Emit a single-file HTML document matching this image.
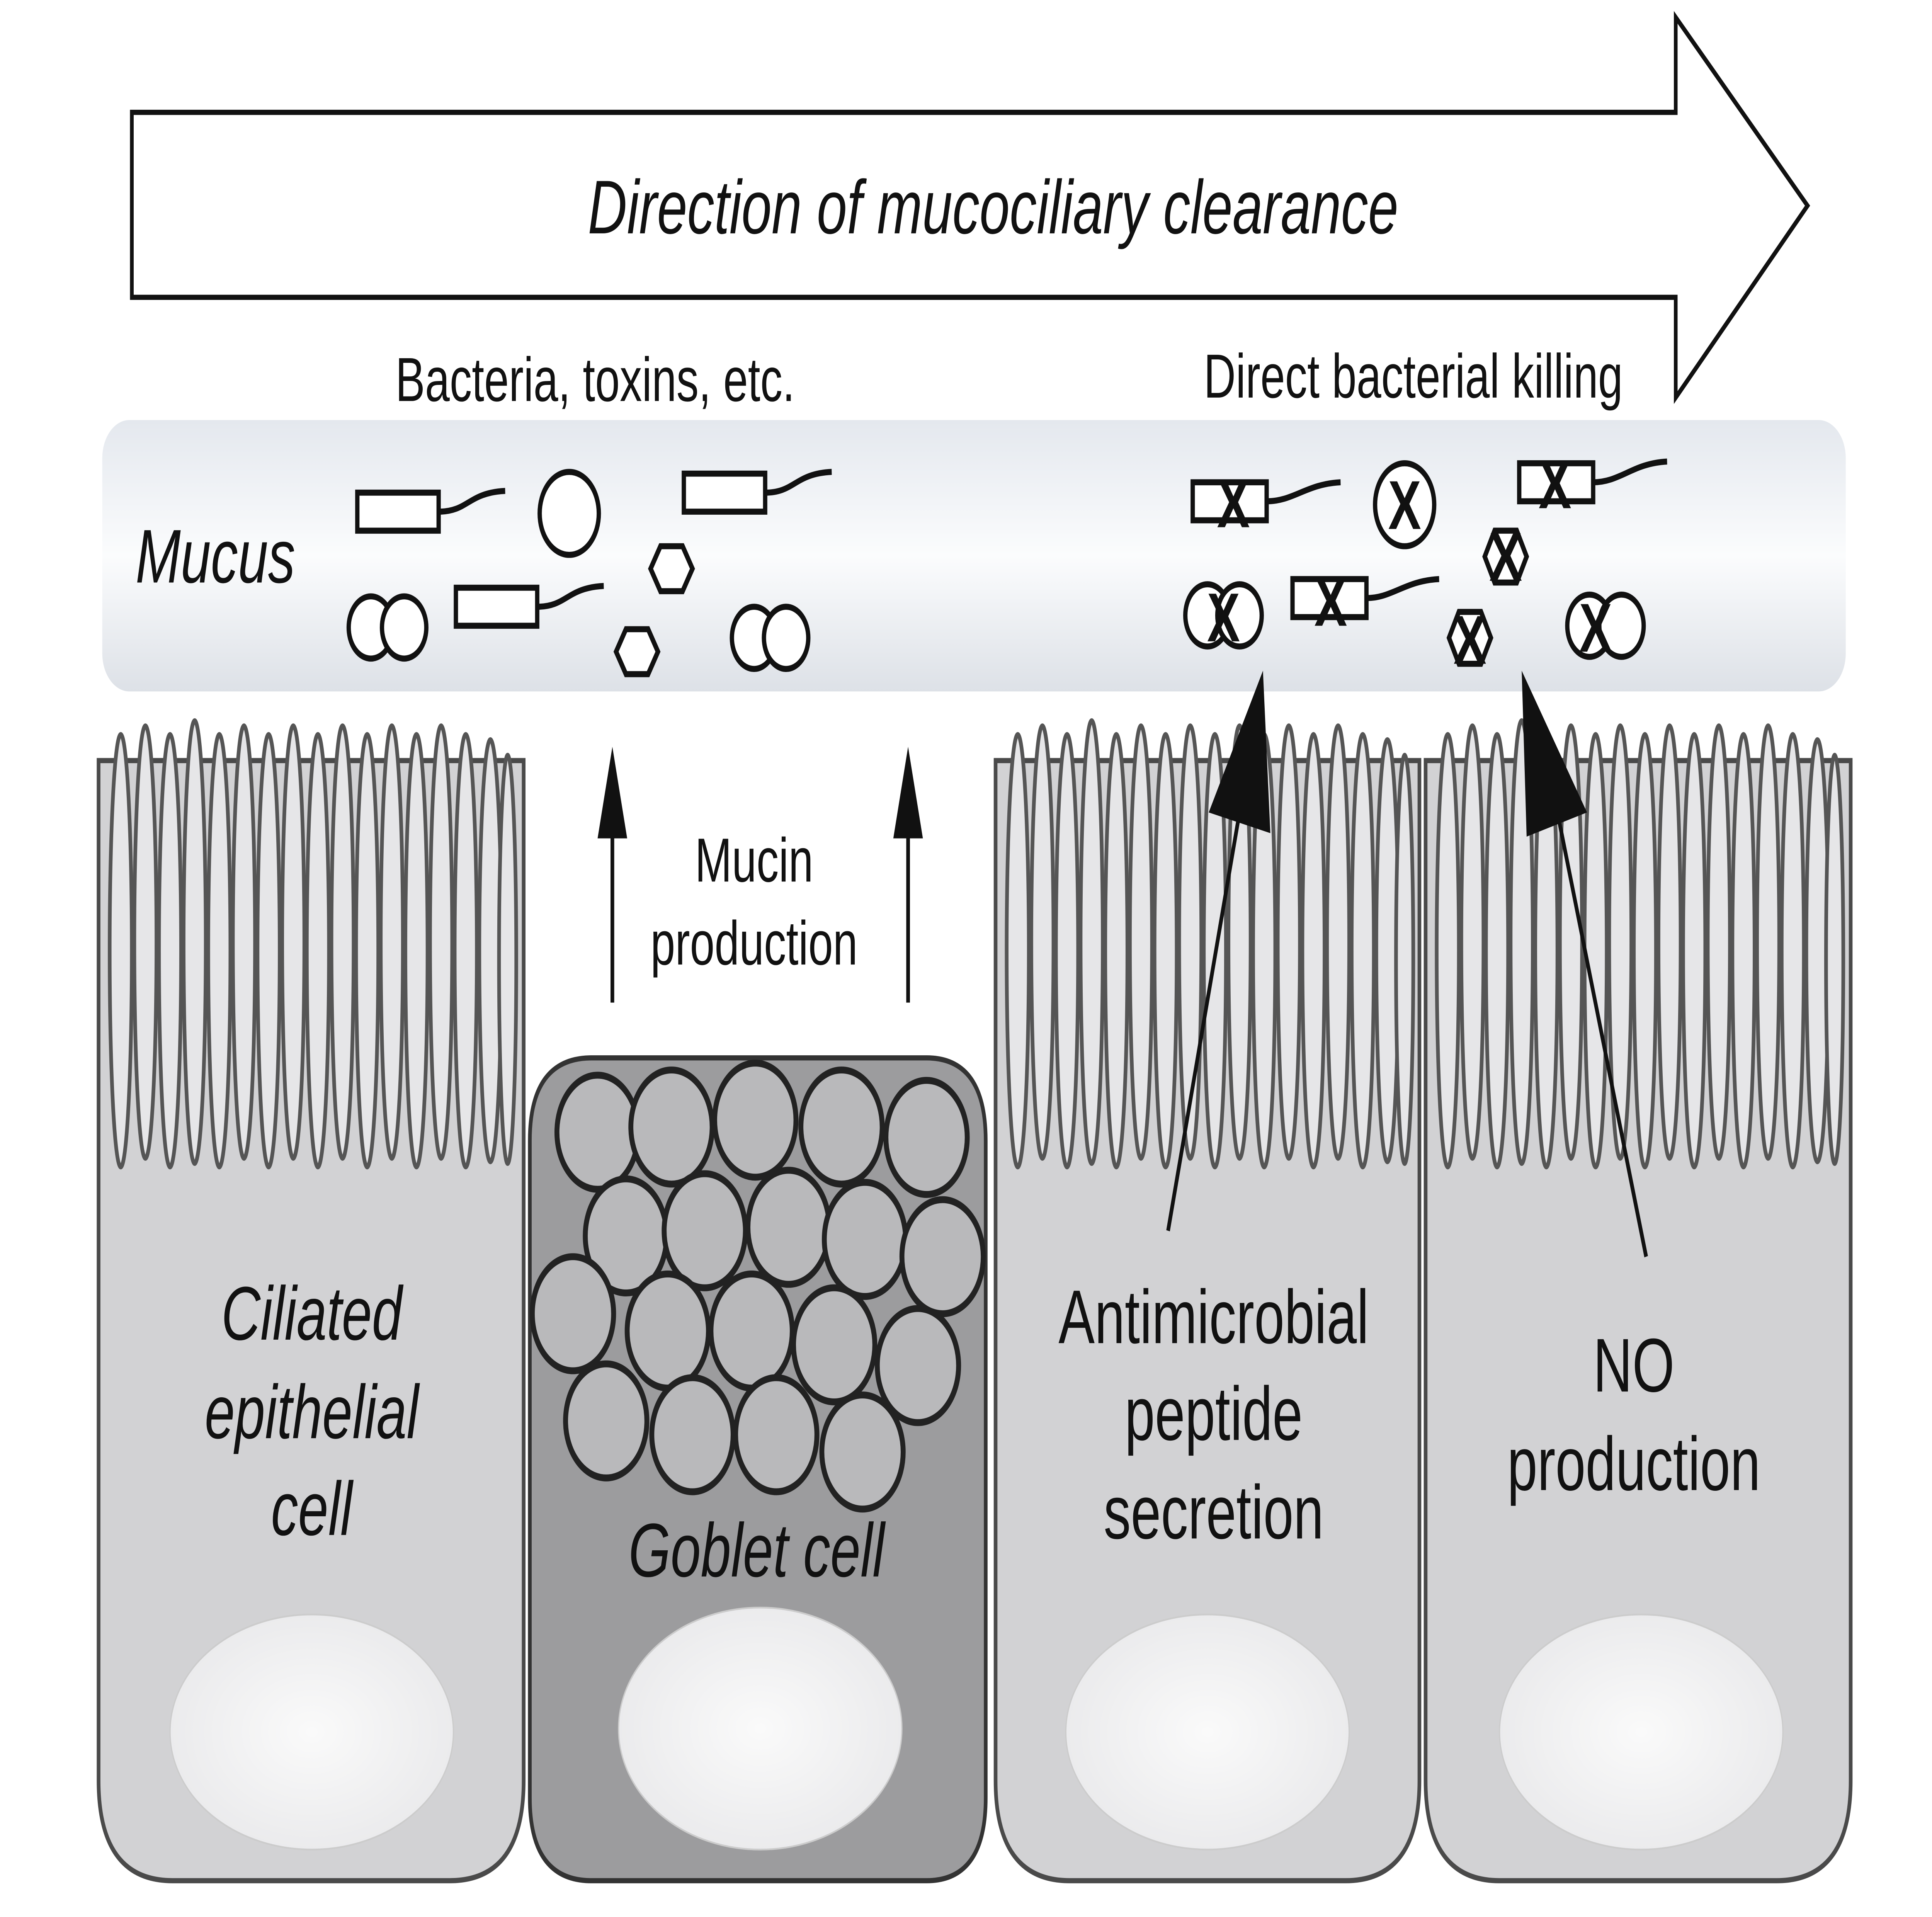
<!DOCTYPE html>
<html><head><meta charset="utf-8"><style>html,body{margin:0;padding:0;background:#fff;overflow:hidden;width:100%;height:100%}svg{display:block;width:100vw;height:100vh}</style></head><body>
<svg viewBox="0 0 1568 1109" preserveAspectRatio="none" xmlns="http://www.w3.org/2000/svg" font-family="Liberation Sans, sans-serif">
<defs>
<linearGradient id="mg" x1="0" y1="0" x2="0" y2="1">
<stop offset="0" stop-color="#e4e8ee"/><stop offset="0.5" stop-color="#fbfcfd"/><stop offset="1" stop-color="#dde1e7"/>
</linearGradient>
<radialGradient id="ng" cx="0.5" cy="0.5" r="0.6"><stop offset="0" stop-color="#fafafa"/><stop offset="1" stop-color="#e8e8ea"/></radialGradient>
</defs>
<rect width="1568" height="1109" fill="#fff"/>
<path d="M107,65 L1360,65 L1360,10 L1467,119 L1360,230 L1360,172 L107,172 Z" fill="#fff" stroke="#111" stroke-width="3"/>
<text x="806" y="135" font-size="44" font-style="italic" text-anchor="middle" fill="#111">Direction of mucociliary clearance</text>
<text x="483" y="232" font-size="36" text-anchor="middle" fill="#111">Bacteria, toxins, etc.</text>
<text x="1147" y="230" font-size="36" text-anchor="middle" fill="#111">Direct bacterial killing</text>
<rect x="83" y="243" width="1415" height="157" rx="22" fill="url(#mg)"/>
<text x="110" y="337" font-size="44" font-style="italic" fill="#111">Mucus</text>
<g fill="#fff" stroke="#111" stroke-width="3.5">
<rect x="290" y="285" width="66" height="22"/><path d="M356,296 C380,296 380,285 410,284" fill="none"/>
<rect x="555" y="274" width="66" height="22"/><path d="M621,285 C645,285 645,274 675,273" fill="none"/>
<rect x="370" y="340" width="66" height="22"/><path d="M436,351 C460,351 460,340 490,339" fill="none"/>
<circle cx="462" cy="297" r="24"/>
<circle cx="301" cy="363" r="18"/><circle cx="328" cy="363" r="18"/>
<circle cx="612" cy="369" r="18"/><circle cx="638" cy="369" r="18"/>
<polygon points="536,316 554,316 562,329 554,342 536,342 528,329"/>
<polygon points="508,364 526,364 534,377 526,390 508,390 500,377"/>
<rect x="968" y="279" width="60" height="22"/><path d="M1028,290 C1050,290 1060,280 1088,279" fill="none"/>
<rect x="1233" y="268" width="60" height="22"/><path d="M1293,279 C1315,279 1325,268 1353,267" fill="none"/>
<rect x="1049" y="335" width="60" height="22"/><path d="M1109,346 C1130,346 1140,336 1168,335" fill="none"/>
<circle cx="1140" cy="292" r="24"/>
<circle cx="980" cy="356" r="18"/><circle cx="1006" cy="356" r="18"/>
<circle cx="1290" cy="362" r="18"/><circle cx="1316" cy="362" r="18"/>
<polygon points="1213,307 1231,307 1239,322 1231,337 1213,337 1205,322"/>
<polygon points="1184,354 1202,354 1210,369 1202,384 1184,384 1176,369"/>
</g>
<g font-size="40" font-weight="bold" text-anchor="middle" fill="#111">
<text x="1001" y="305">X</text><text x="1262" y="294">X</text><text x="1080" y="362">X</text>
<text x="1140" y="306">X</text><text x="993" y="371">X</text><text x="1295" y="377">X</text>
<text x="1222" y="336">X</text><text x="1193" y="384">X</text>
</g>
<g stroke="#4a4a4a" stroke-width="3">
<path d="M80,440 L80,1030 Q80,1088 140,1088 L365,1088 Q425,1088 425,1030 L425,440 Z" fill="#d2d2d4"/>
<path d="M808,440 L808,1030 Q808,1088 868,1088 L1092,1088 Q1152,1088 1152,1030 L1152,440 Z" fill="#d2d2d4"/>
<path d="M1157,440 L1157,1030 Q1157,1088 1217,1088 L1442,1088 Q1502,1088 1502,1030 L1502,440 Z" fill="#d2d2d4"/>
<path d="M430,660 Q430,612 480,612 L752,612 Q800,612 800,660 L800,1040 Q800,1088 752,1088 L480,1088 Q430,1088 430,1040 Z" fill="#9c9c9e" stroke="#333"/>
</g>
<g fill="#e6e6e8" stroke="#555" stroke-width="3">
<g id="cil1">
<ellipse cx="98" cy="550" rx="9" ry="125"/><ellipse cx="118" cy="545" rx="9" ry="125"/><ellipse cx="138" cy="550" rx="9" ry="125"/><ellipse cx="158" cy="545" rx="9" ry="128"/><ellipse cx="178" cy="550" rx="9" ry="125"/><ellipse cx="198" cy="545" rx="9" ry="125"/><ellipse cx="218" cy="550" rx="9" ry="125"/><ellipse cx="238" cy="545" rx="9" ry="125"/><ellipse cx="258" cy="550" rx="9" ry="125"/><ellipse cx="278" cy="545" rx="9" ry="125"/><ellipse cx="298" cy="550" rx="9" ry="125"/><ellipse cx="318" cy="545" rx="9" ry="125"/><ellipse cx="338" cy="550" rx="9" ry="125"/><ellipse cx="358" cy="545" rx="9" ry="125"/><ellipse cx="378" cy="550" rx="9" ry="125"/><ellipse cx="398" cy="550" rx="9" ry="122"/><ellipse cx="412" cy="555" rx="7" ry="118"/>
</g>
<use href="#cil1" x="728"/>
<use href="#cil1" x="1077"/>
</g>
<g fill="url(#ng)" stroke="#ccc" stroke-width="1">
<ellipse cx="253" cy="1002" rx="115" ry="68"/><ellipse cx="617" cy="1000" rx="115" ry="70"/>
<ellipse cx="980" cy="1002" rx="115" ry="68"/><ellipse cx="1332" cy="1002" rx="115" ry="68"/>
</g>
<g fill="#b9b9bb" stroke="#222" stroke-width="4">
<circle cx="485" cy="655" r="33"/><circle cx="545" cy="652" r="33"/><circle cx="613" cy="648" r="33"/><circle cx="683" cy="652" r="33"/><circle cx="752" cy="658" r="33"/>
<circle cx="508" cy="715" r="33"/><circle cx="572" cy="712" r="33"/><circle cx="640" cy="710" r="33"/><circle cx="702" cy="717" r="33"/><circle cx="765" cy="727" r="33"/>
<circle cx="465" cy="760" r="33"/><circle cx="542" cy="770" r="33"/><circle cx="610" cy="770" r="33"/><circle cx="677" cy="778" r="33"/><circle cx="745" cy="790" r="33"/>
<circle cx="492" cy="822" r="33"/><circle cx="562" cy="830" r="33"/><circle cx="630" cy="830" r="33"/><circle cx="700" cy="840" r="33"/>
</g>
<g stroke="#111" stroke-width="3">
<line x1="497" y1="580" x2="497" y2="470"/><line x1="737" y1="580" x2="737" y2="470"/>
<line x1="948" y1="712" x2="1018" y2="420"/><line x1="1336" y1="727" x2="1250" y2="420"/>
</g>
<g fill="#111">
<polygon points="497,432 485,485 509,485"/><polygon points="737,432 725,485 749,485"/>
<polygon points="1025,388 981,470 1031,482"/><polygon points="1235,388 1239,484 1288,470"/>
</g>
<g fill="#111" text-anchor="middle">
<text x="612" y="510" font-size="36">Mucin</text><text x="612" y="558" font-size="36">production</text>
<g font-size="44" font-style="italic"><text x="253" y="775">Ciliated</text><text x="253" y="832">epithelial</text><text x="253" y="888">cell</text><text x="614" y="912">Goblet cell</text></g>
<g font-size="44"><text x="985" y="777">Antimicrobial</text><text x="985" y="833">peptide</text><text x="985" y="890">secretion</text><text x="1326" y="805">NO</text><text x="1326" y="862">production</text></g>
</g>
</svg>
</body></html>
